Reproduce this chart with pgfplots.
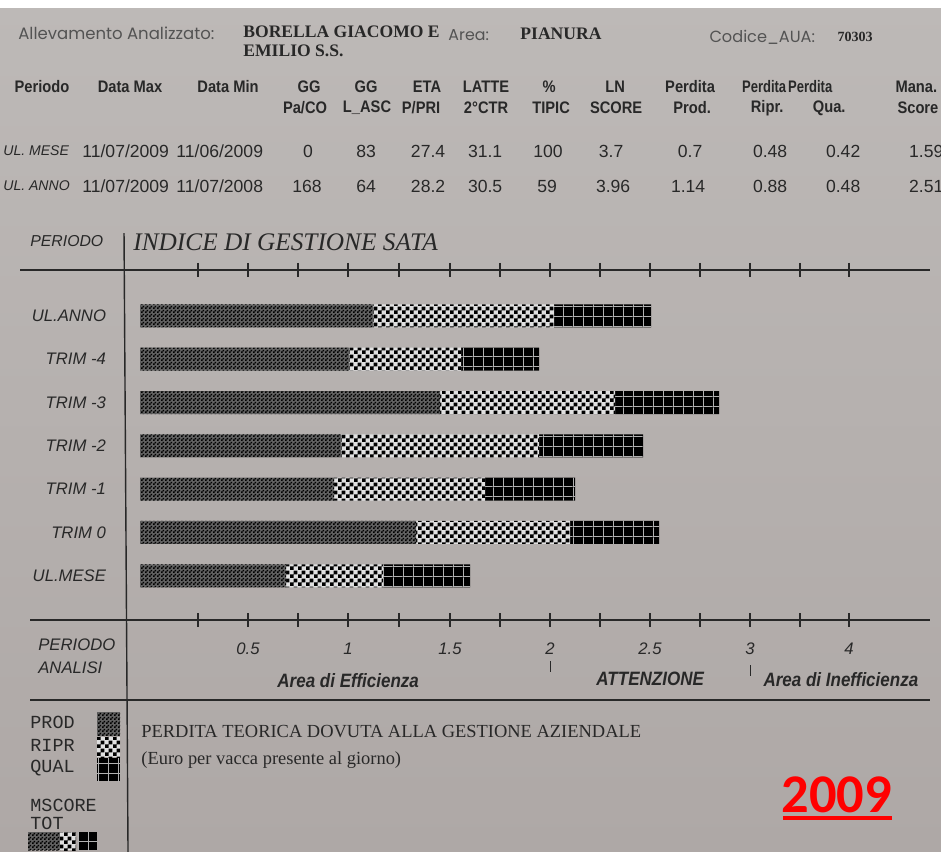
\documentclass[border=0pt]{standalone}
\usepackage{fontspec}
\setmainfont{Liberation Serif}
\setsansfont{Liberation Sans}
\setmonofont{Liberation Mono}
\newfontfamily\gothic{Poppins}
\newfontfamily\cond[FakeStretch=0.88]{Liberation Sans}
\newfontfamily\narrow[FakeStretch=0.78]{Liberation Sans}
\newfontfamily\carl{Carlito}
\usepackage{pgfplots}
\pgfplotsset{compat=1.18}
\usetikzlibrary{patterns}

\definecolor{papertop}{RGB}{189,185,183}
\definecolor{paperbot}{RGB}{174,168,166}
\definecolor{ink}{RGB}{40,40,40}

% bar textures
\pgfdeclarepatternformonly{prodtex}{\pgfpointorigin}{\pgfqpoint{2pt}{2pt}}{\pgfqpoint{2pt}{2pt}}{%
  \pgfpathrectangle{\pgfpointorigin}{\pgfqpoint{1pt}{1pt}}%
  \pgfpathrectangle{\pgfqpoint{1pt}{1pt}}{\pgfqpoint{1pt}{1pt}}%
  \pgfusepath{fill}}
\pgfdeclarepatternformonly{riprchk}{\pgfpointorigin}{\pgfqpoint{4.6pt}{4.6pt}}{\pgfqpoint{4.6pt}{4.6pt}}{%
  \pgfpathrectangle{\pgfpointorigin}{\pgfqpoint{2.3pt}{2.3pt}}%
  \pgfpathrectangle{\pgfqpoint{2.3pt}{2.3pt}}{\pgfqpoint{2.3pt}{2.3pt}}%
  \pgfusepath{fill}}
\pgfdeclarepatternformonly{qualgrid}{\pgfpointorigin}{\pgfqpoint{5.6pt}{5.6pt}}{\pgfqpoint{5.6pt}{5.6pt}}{%
  \pgfpathrectangle{\pgfpointorigin}{\pgfqpoint{0.5pt}{5.6pt}}%
  \pgfpathrectangle{\pgfpointorigin}{\pgfqpoint{5.6pt}{0.5pt}}%
  \pgfusepath{fill}}

\tikzset{
  prod/.style={draw=none, fill=black!62, postaction={pattern=prodtex, pattern color=black}},
  ripr/.style={draw=none, fill=white!88!black, postaction={pattern=riprchk, pattern color=black}},
  qual/.style={draw=none, fill=black, postaction={pattern=qualgrid, pattern color=white!70!black}},
}

\begin{document}
\begin{tikzpicture}
\shade[use as bounding box, top color=papertop, bottom color=paperbot] (0,0) rectangle (18.82,-17.04);

\begin{axis}[
  at={(2.56cm,-5.40cm)}, anchor=north west,
  scale only axis, width=16.04cm, height=7.0cm,
  xbar stacked, bar width=0.46cm,
  xmin=-0.06, xmax=3.95, ymin=-1.02, ymax=7.06,
  separate axis lines,
  x axis line style={ink, line width=1pt},
  y axis line style={draw=none},
  xtick={0.29,0.54,0.79,1.04,1.295,1.55,1.80,2.05,2.30,2.55,2.80,3.05,3.30,3.545},
  xticklabels={,0.5,,1,,1.5,,2,,2.5,,3,,4},
  xtick pos=both,
  tick align=center, major tick length=0.28cm,
  xtick style={ink, line width=0.6pt},
  xticklabel style={font=\sffamily\itshape\fontsize{9.5}{11}\selectfont, text=ink, yshift=-0.2cm},
  ytick={0,...,6},
  yticklabels={UL.MESE, TRIM 0, TRIM -1, TRIM -2, TRIM -3, TRIM -4, UL.ANNO},
  ytick style={draw=none},
  yticklabel style={font=\sffamily\itshape\fontsize{9.5}{11}\selectfont, text=ink, xshift=-5pt},
]
% PROD
\addplot[prod] coordinates {(0.73,0) (1.38,1) (0.97,2) (1.005,3) (1.50,4) (1.045,5) (1.165,6)};
% RIPR
\addplot[ripr] coordinates {(0.485,0) (0.77,1) (0.755,2) (0.99,3) (0.875,4) (0.56,5) (0.905,6)};
% QUAL
\addplot[qual] coordinates {(0.435,0) (0.445,1) (0.45,2) (0.52,3) (0.52,4) (0.39,5) (0.485,6)};
\end{axis}

\begin{scope}[x=0.02cm, y=-0.02cm, every node/.style={inner sep=0pt, text=ink}]
\fill[white] (0,0) rectangle (941,8);

% farm header
\node[anchor=west, font=\gothic\fontsize{9.4}{11}\selectfont, text=ink!80] at (18,33) {Allevamento Analizzato:};
\node[anchor=west, font=\bfseries\fontsize{10}{12}\selectfont] at (243,32) {BORELLA GIACOMO E};
\node[anchor=west, font=\bfseries\fontsize{10}{12}\selectfont] at (243,51) {EMILIO S.S.};
\node[anchor=west, font=\gothic\fontsize{9}{11}\selectfont, text=ink!80] at (448,35) {Area:};
\node[anchor=west, font=\bfseries\fontsize{10}{12}\selectfont] at (520,34) {PIANURA};
\node[anchor=west, font=\gothic\fontsize{9.2}{11}\selectfont, text=ink!80] at (709,37) {Codice\_AUA:};
\node[anchor=west, font=\bfseries\fontsize{8}{10}\selectfont] at (837,37) {70303};

% column headers
\begin{scope}[every node/.append style={font=\cond\bfseries\fontsize{9.5}{11}\selectfont}]
\node at (42,87) {Periodo};
\node at (130,87) {Data Max};
\node at (228,87) {Data Min};
\node at (309,87) {GG};
\node at (366,87) {GG};
\node at (427,87) {ETA};
\node at (486,87) {LATTE};
\node at (549,87) {\%};
\node at (615,87) {LN};
\node at (690,87) {Perdita};
\node[font=\narrow\bfseries\fontsize{9.5}{11}\selectfont] at (764,87) {Perdita};
\node[font=\narrow\bfseries\fontsize{9.5}{11}\selectfont] at (810,87) {Perdita};
\node[anchor=west] at (895,87) {Mana.};
\node at (305,108) {Pa/CO};
\node at (367,108) {L\_ASC};
\node at (421,108) {P/PRI};
\node at (486,108) {2°CTR};
\node at (551,108) {TIPIC};
\node at (616,108) {SCORE};
\node at (692,108) {Prod.};
\node at (767,108) {Ripr.};
\node at (829,108) {Qua.};
\node[anchor=west] at (897,108) {Score};
\end{scope}

% data rows
\begin{scope}[every node/.append style={font=\sffamily\fontsize{10}{12}\selectfont}]
\node[anchor=west, font=\sffamily\itshape\fontsize{8}{10}\selectfont] at (3,151) {UL. MESE};
\node[anchor=west] at (82,151) {11/07/2009};
\node[anchor=west] at (176,151) {11/06/2009};
\node at (308,151) {0};
\node at (366,151) {83};
\node at (428,151) {27.4};
\node at (485,151) {31.1};
\node at (548,151) {100};
\node at (611,151) {3.7};
\node at (690,151) {0.7};
\node at (770,151) {0.48};
\node at (843,151) {0.42};
\node at (926,151) {1.59};
\node[anchor=west, font=\sffamily\itshape\fontsize{8}{10}\selectfont] at (3,186) {UL. ANNO};
\node[anchor=west] at (82,186) {11/07/2009};
\node[anchor=west] at (176,186) {11/07/2008};
\node at (307,186) {168};
\node at (366,186) {64};
\node at (428,186) {28.2};
\node at (485,186) {30.5};
\node at (547,186) {59};
\node at (613,186) {3.96};
\node at (688,186) {1.14};
\node at (770,186) {0.88};
\node at (843,186) {0.48};
\node at (926,186) {2.51};
\end{scope}

% chart frame and titles
\node[anchor=west, font=\sffamily\itshape\fontsize{9}{11}\selectfont] at (30,241) {PERIODO};
\node[anchor=west, font=\itshape\fontsize{14.4}{16}\selectfont] at (133,242) {INDICE DI GESTIONE SATA};
\draw[ink, line width=1pt] (20,270) -- (128,270);
\draw[ink, line width=1pt] (30,620) -- (128,620);
\draw[ink, line width=1pt] (30,700) -- (930,700);
\draw[ink, line width=0.8pt] (124,233) -- (128,852);
\draw[ink, line width=0.6pt] (550,661) -- (550,672);
\draw[ink, line width=0.6pt] (750,665) -- (750,676);

\node[anchor=west, font=\sffamily\itshape\fontsize{9.5}{11}\selectfont] at (38,645) {PERIODO};
\node[anchor=west, font=\sffamily\itshape\fontsize{9.5}{11}\selectfont] at (38,668) {ANALISI};
\node[anchor=west, font=\cond\bfseries\itshape\fontsize{11}{13}\selectfont] at (277,680) {Area di Efficienza};
\node[anchor=west, font=\cond\bfseries\itshape\fontsize{11}{13}\selectfont] at (596,679) {ATTENZIONE};
\node[anchor=west, font=\cond\bfseries\itshape\fontsize{11}{13}\selectfont] at (763,679) {Area di Inefficienza};

% legend
\begin{scope}[every node/.append style={font=\ttfamily\fontsize{10.5}{12}\selectfont, anchor=west}]
\node at (30,722) {PROD};
\node at (30,745) {RIPR};
\node at (30,768) {QUAL};
\node at (30,805) {MSCORE};
\node at (30,823) {TOT};
\end{scope}
\path[prod] (97,712) rectangle (120,736);
\path[ripr] (97,737) rectangle (120,757);
\path[qual] (97,758) rectangle (120,781);
\path[prod] (28,832) rectangle (60,850);
\path[ripr] (60,832) rectangle (76,850);
\path[qual] (78,832) rectangle (97,850);

% notes
\node[anchor=west, font=\fontsize{10.5}{12}\selectfont] at (141,731) {PERDITA TEORICA DOVUTA ALLA GESTIONE AZIENDALE};
\node[anchor=west, font=\fontsize{10.5}{12}\selectfont] at (141,760) {(Euro per vacca presente al giorno)};

\node[anchor=west, font=\carl\bfseries\fontsize{31}{33}\selectfont, text=red] at (781,795) {2009};
\fill[red] (783,816) rectangle (892,820);
\end{scope}
\end{tikzpicture}
\end{document}
